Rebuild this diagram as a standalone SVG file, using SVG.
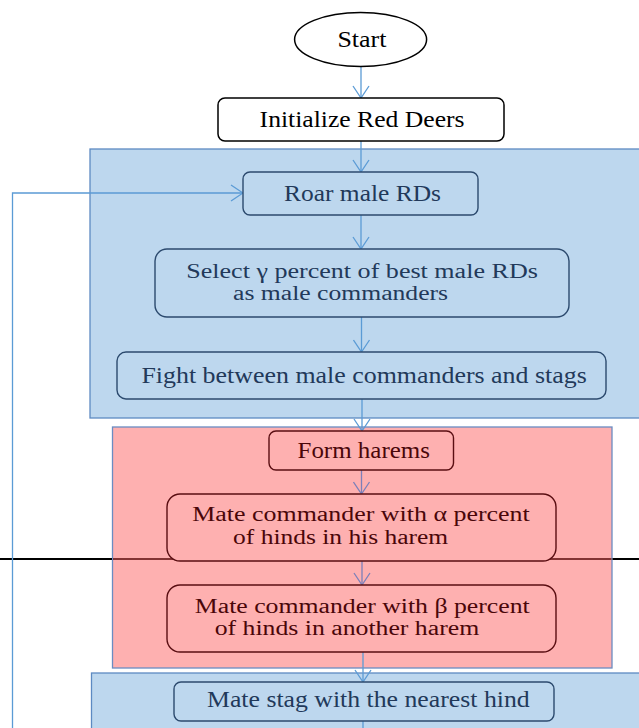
<svg xmlns="http://www.w3.org/2000/svg" width="639" height="728" viewBox="0 0 639 728">
<defs>
<marker id="ah" viewBox="-13 -9 14 18" refX="0" refY="0" markerWidth="14" markerHeight="18" markerUnits="userSpaceOnUse" orient="auto">
<path d="M-12,-8 L0,0 L-12,8" fill="none" stroke="#5b9bd5" stroke-width="1.3"/>
</marker>
<marker id="ahr" viewBox="-13 -9 14 18" refX="0" refY="0" markerWidth="14" markerHeight="18" markerUnits="userSpaceOnUse" orient="auto">
<path d="M-12,-8 L0,0 L-12,8" fill="none" stroke="#7c80ba" stroke-width="1.3"/>
</marker>
</defs>
<style>
text{font-family:"Liberation Serif","Times New Roman",serif;font-size:22.5px}
text.two{font-size:20px}
.bc{fill:#bdd7ee;stroke:#5d8ac2;stroke-width:1.3}
.rc{fill:#feb0b0;stroke:#6a8cc2;stroke-width:1.3}
.bn{fill:#bdd7ee;stroke:#2c4a6e;stroke-width:1.4}
.bt{fill:#22395a}
.rn{fill:#feb0b0;stroke:#5a0e12;stroke-width:1.4}
.rt{fill:#4a0609}
.wn{fill:#ffffff;stroke:#000000;stroke-width:1.5}
.wt{fill:#000000}
.c{fill:none;stroke:#5b9bd5;stroke-width:1.3}
.cr{fill:none;stroke:#7c80ba;stroke-width:1.3}
</style>
<rect width="639" height="728" fill="#ffffff"/>
<g id="containers">
<rect class="bc" x="90" y="149" width="570" height="269"/>
<rect class="rc" x="112.5" y="427" width="499.5" height="241"/>
<rect class="bc" x="91.5" y="673" width="570" height="70"/>
</g>
<g id="separator">
<line x1="0" y1="559" x2="112" y2="559" stroke="#000" stroke-width="2"/>
<line x1="113" y1="559" x2="611.5" y2="559" stroke="#5a0a0a" stroke-width="1.6"/>
<line x1="612.5" y1="559" x2="639" y2="559" stroke="#000" stroke-width="2"/>
</g>
<g id="connectors">
<path class="c" d="M361,67 V98" marker-end="url(#ah)"/>
<path class="c" d="M361,141 V172" marker-end="url(#ah)"/>
<path class="c" d="M361,215 V249" marker-end="url(#ah)"/>
<path class="c" d="M361.5,317 V352" marker-end="url(#ah)"/>
<path class="c" d="M362,399 V431" marker-end="url(#ah)"/>
<path class="cr" d="M361.5,470 V494" marker-end="url(#ahr)"/>
<path class="cr" d="M362,561 V585" marker-end="url(#ahr)"/>
<path class="c" d="M363,652 V682" marker-end="url(#ah)"/>
<path class="c" d="M363,721 V728"/>
<path class="c" d="M12.5,728 V193 H243" marker-end="url(#ah)"/>
</g>
<g id="start">
<ellipse class="wn" cx="360.6" cy="39.5" rx="66" ry="27"/>
<text class="wt" x="337.4" y="47" textLength="49" lengthAdjust="spacingAndGlyphs">Start</text>
</g>
<g id="initialize">
<rect class="wn" x="218" y="98" width="286" height="43" rx="7"/>
<text class="wt" x="259.6" y="127" textLength="205" lengthAdjust="spacingAndGlyphs">Initialize Red Deers</text>
</g>
<g id="roar">
<rect class="bn" x="243" y="172" width="235" height="43" rx="7"/>
<text class="bt" x="284" y="201" textLength="157" lengthAdjust="spacingAndGlyphs">Roar male RDs</text>
</g>
<g id="select">
<rect class="bn" x="155" y="249" width="414" height="68" rx="12"/>
<text class="bt two" x="186.2" y="277.5" textLength="351.7" lengthAdjust="spacingAndGlyphs">Select γ percent of best male RDs</text>
<text class="bt two" x="233.1" y="300" textLength="215" lengthAdjust="spacingAndGlyphs">as male commanders</text>
</g>
<g id="fight">
<rect class="bn" x="117" y="352" width="489" height="47" rx="9"/>
<text class="bt" x="141.4" y="383" textLength="445.4" lengthAdjust="spacingAndGlyphs">Fight between male commanders and stags</text>
</g>
<g id="harems">
<rect class="rn" x="269" y="431" width="184.5" height="39" rx="7"/>
<text class="rt" x="297.5" y="457.5" textLength="132.4" lengthAdjust="spacingAndGlyphs">Form harems</text>
</g>
<g id="mate-alpha">
<rect class="rn" x="167" y="494" width="389" height="67" rx="13"/>
<text class="rt two" x="192.3" y="521" textLength="337.4" lengthAdjust="spacingAndGlyphs">Mate commander with α percent</text>
<text class="rt two" x="233.1" y="543.5" textLength="215" lengthAdjust="spacingAndGlyphs">of hinds in his harem</text>
</g>
<g id="mate-beta">
<rect class="rn" x="167" y="585" width="389" height="67" rx="13"/>
<text class="rt two" x="194.8" y="612.5" textLength="334.9" lengthAdjust="spacingAndGlyphs">Mate commander with β percent</text>
<text class="rt two" x="214.7" y="635" textLength="264.5" lengthAdjust="spacingAndGlyphs">of hinds in another harem</text>
</g>
<g id="mate-stag">
<rect class="bn" x="174" y="682" width="380" height="39" rx="7"/>
<text class="bt" x="207" y="707" textLength="322.7" lengthAdjust="spacingAndGlyphs">Mate stag with the nearest hind</text>
</g>
</svg>
